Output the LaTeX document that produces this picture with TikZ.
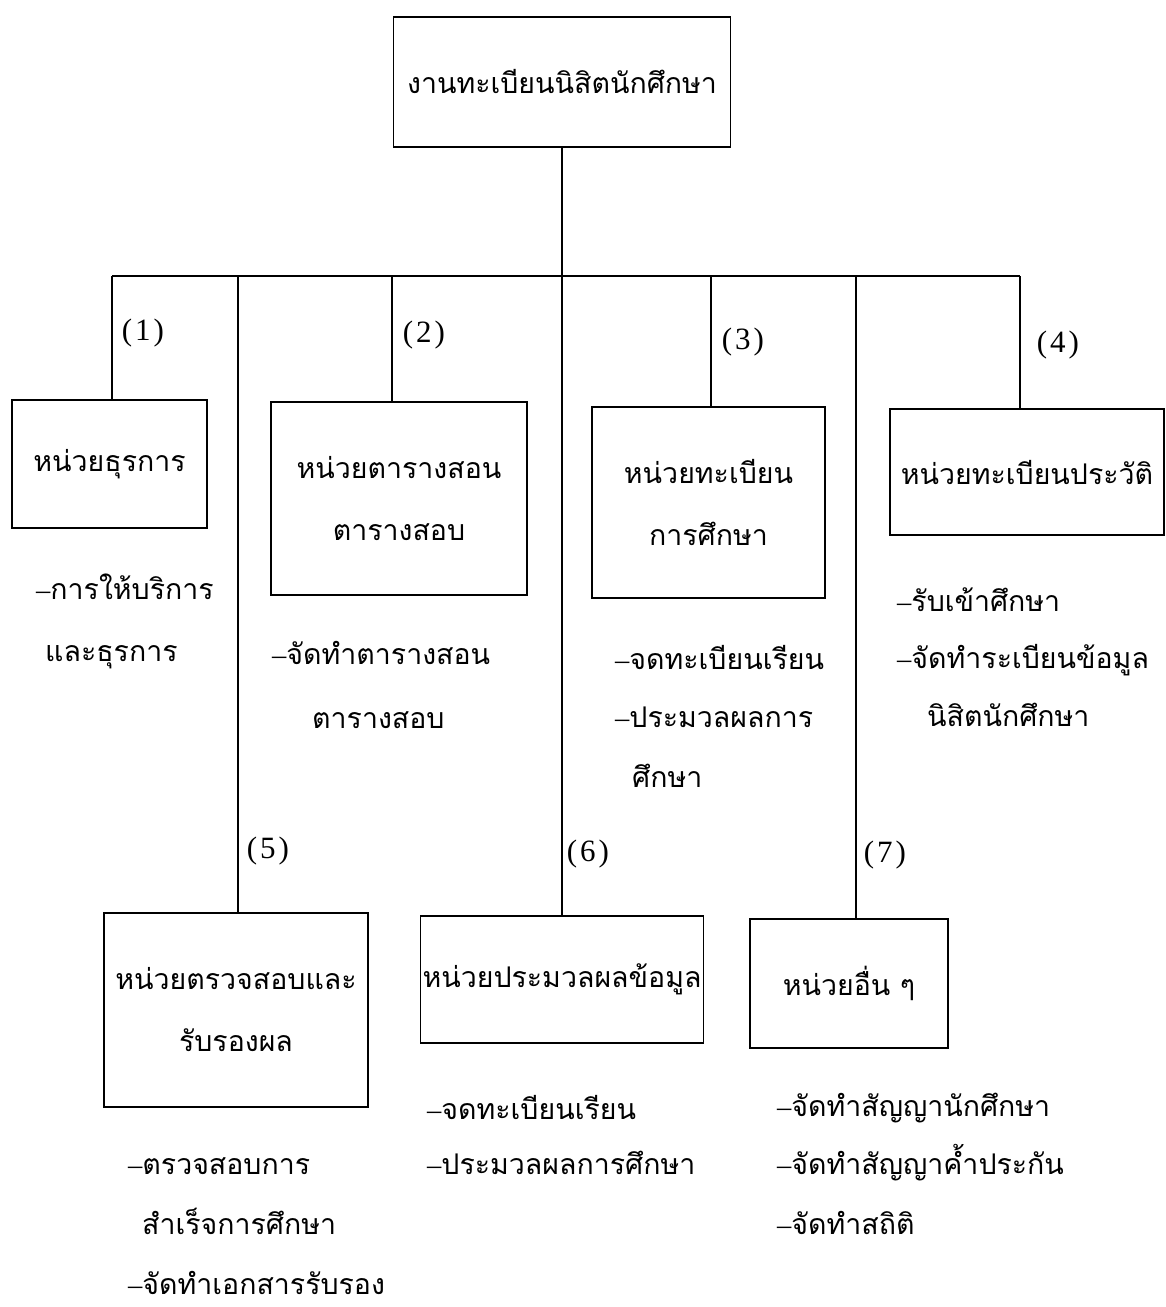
\documentclass[tikz,border=0pt]{standalone}
\usepackage{fontspec}
\newfontfamily\thai[Script=Thai]{Loma}
\newfontfamily\latinfont{Liberation Serif}
\newcommand\thaitext{\thai\fontsize{28.5}{62}\selectfont}
\newcommand\lsdash{{\latinfont –}}
\newcommand\numtag[1]{(\kern3pt#1\kern3pt)}
\begin{document}
\begin{tikzpicture}[x=1pt,y=-1pt,
  unitbox/.style={draw, line width=1.8pt, inner sep=0pt, align=center, font=\thaitext},
  item/.style={anchor=west, inner sep=0pt, text height=20pt, text depth=8pt, font=\thaitext},
  numlbl/.style={inner sep=0pt, font=\latinfont\fontsize{31}{34}\selectfont},
  link/.style={line width=1.8pt}]
\useasboundingbox[fill=white] (0,0) rectangle (1166,1307);

% boxes
\node[unitbox, minimum width=337pt, minimum height=130pt] (top) at (562,82) {งานทะเบียนนิสิตนักศึกษา};
\node[unitbox, minimum width=195pt, minimum height=128pt] (b1) at (109.5,464) {หน่วยธุรการ};
\node[unitbox, minimum width=256pt, minimum height=193pt] (b2) at (399,498.5) {หน่วยตารางสอน\\ตารางสอบ};
\node[unitbox, minimum width=233pt, minimum height=191pt] (b3) at (708.5,502.5) {หน่วยทะเบียน\\การศึกษา};
\node[unitbox, minimum width=274pt, minimum height=126pt] (b4) at (1027,472) {หน่วยทะเบียนประวัติ};
\node[unitbox, minimum width=264pt, minimum height=194pt] (b5) at (236,1010) {หน่วยตรวจสอบและ\\รับรองผล};
\node[unitbox, minimum width=283pt, minimum height=127pt] (b6) at (562,979.5) {หน่วยประมวลผลข้อมูล};
\node[unitbox, minimum width=198pt, minimum height=129pt] (b7) at (849,983.5) {หน่วยอื่น ๆ};

% bus and drops
\coordinate (d1) at (112,276);
\coordinate (d5) at (238,276);
\coordinate (d2) at (392,276);
\coordinate (d3) at (711,276);
\coordinate (d7) at (856,276);
\coordinate (d4) at (1020,276);
\draw[link] (d1) -- (d4);
\draw[link] (top.south) -- (b6.north);
\draw[link] (d1) -- (d1 |- b1.north);
\draw[link] (d5) -- (d5 |- b5.north);
\draw[link] (d2) -- (d2 |- b2.north);
\draw[link] (d3) -- (d3 |- b3.north);
\draw[link] (d7) -- (d7 |- b7.north);
\draw[link] (d4) -- (d4 |- b4.north);

% number labels
\node[numlbl] (n1) at (143,333) {\numtag{1}};
\node[numlbl] (n2) at (424,335) {\numtag{2}};
\node[numlbl] (n3) at (743,342) {\numtag{3}};
\node[numlbl] (n4) at (1058,345) {\numtag{4}};
\node[numlbl] (n5) at (268,851) {\numtag{5}};
\node[numlbl] (n6) at (588,854) {\numtag{6}};
\node[numlbl] (n7) at (885,855) {\numtag{7}};

% duty lists
\node[item] (t1a) at (36,593) {\lsdash การให้บริการ};
\node[item] (t1b) at (45,655) {และธุรการ};
\node[item] (t2a) at (272,658) {\lsdash จัดทำตารางสอน};
\node[item] (t2b) at (312,722) {ตารางสอบ};
\node[item] (t3a) at (615,663) {\lsdash จดทะเบียนเรียน};
\node[item] (t3b) at (615,721) {\lsdash ประมวลผลการ};
\node[item] (t3c) at (632,781) {ศึกษา};
\node[item] (t4a) at (897,605) {\lsdash รับเข้าศึกษา};
\node[item] (t4b) at (897,662) {\lsdash จัดทำระเบียนข้อมูล};
\node[item] (t4c) at (927,720) {นิสิตนักศึกษา};
\node[item] (t5a) at (128,1168) {\lsdash ตรวจสอบการ};
\node[item] (t5b) at (142,1228) {สำเร็จการศึกษา};
\node[item] (t5c) at (128,1288) {\lsdash จัดทำเอกสารรับรอง};
\node[item] (t6a) at (427,1113) {\lsdash จดทะเบียนเรียน};
\node[item] (t6b) at (427,1168) {\lsdash ประมวลผลการศึกษา};
\node[item] (t7a) at (777,1110) {\lsdash จัดทำสัญญานักศึกษา};
\node[item] (t7b) at (777,1168) {\lsdash จัดทำสัญญาค้ำประกัน};
\node[item] (t7c) at (777,1228) {\lsdash จัดทำสถิติ};
\end{tikzpicture}
\end{document}
